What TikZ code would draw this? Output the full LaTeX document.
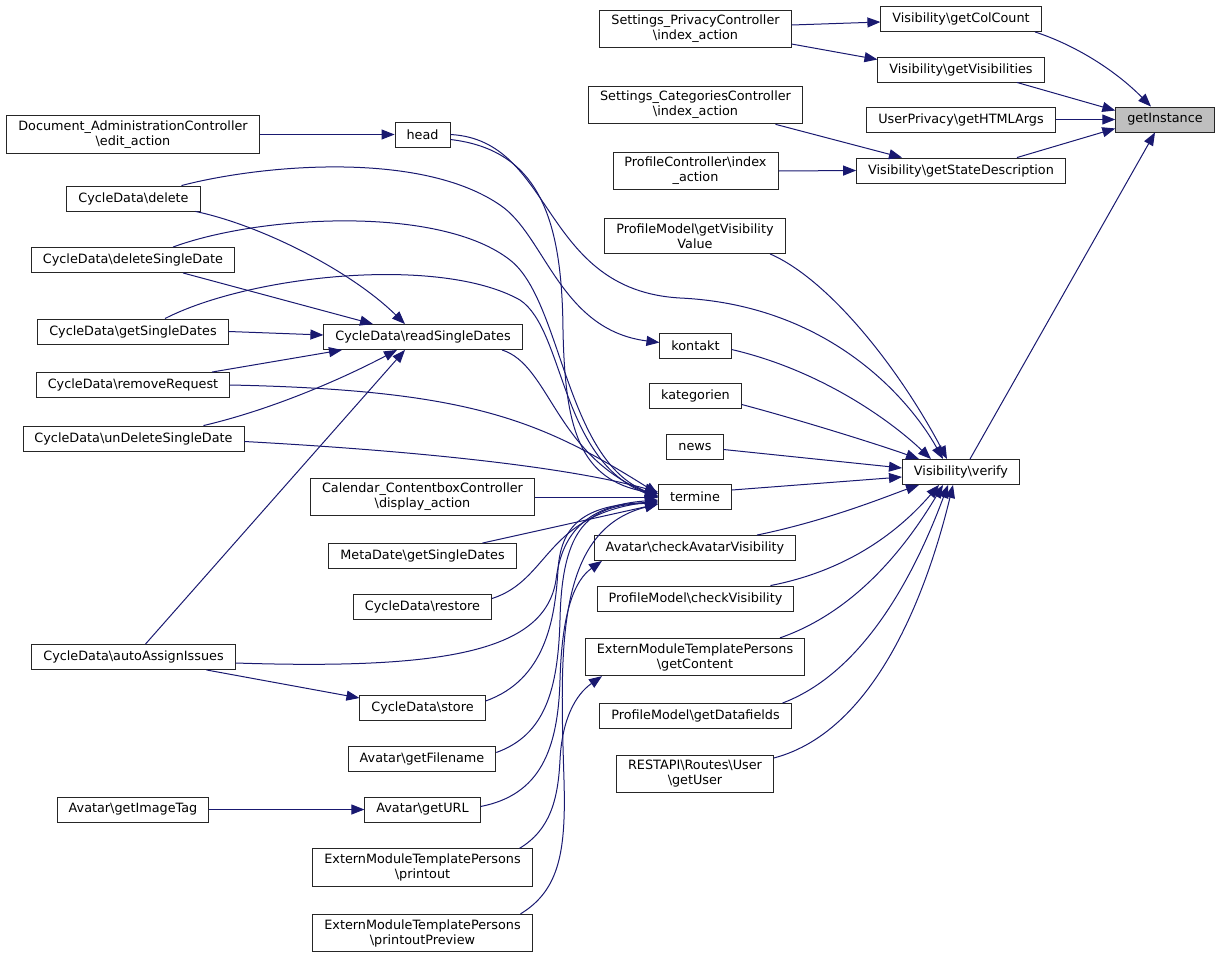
\documentclass[tikz,border=0pt]{standalone}
\usepackage{fontspec}
\usepackage{tikz}
\usetikzlibrary{arrows.meta}
\newfontfamily\dxfont{DejaVu Sans}
\newcommand{\bsl}{\textbackslash{}}
\definecolor{edgeblue}{HTML}{191970}
\definecolor{rootgray}{HTML}{BFBFBF}

\begin{document}
\begin{tikzpicture}[x=1pt,y=-1pt,
        fn/.style={draw=black!85,line width=0.9pt,fill=white,align=center,inner xsep=11.5pt,inner ysep=5pt,
            minimum height=25pt,font=\dxfont\fontsize{12.8}{15}\selectfont},
        root/.style={fn,fill=rootgray},
        call/.style={draw=edgeblue,line width=1pt,-{Triangle[length=13pt,width=10pt]}}]
            \useasboundingbox (0,0) rectangle (1219,959);

            % right part
            \node [root](gi) at (1165,119.5){getInstance};
            \node [fn](colc) at (961,19){Visibility\bsl getColCount};
            \node [fn](vis) at (961,69.5){Visibility\bsl getVisibilities};
            \node [fn](html) at (961,119.5){UserPrivacy\bsl getHTMLArgs};
            \node [fn](state) at (961,170.5){Visibility\bsl getStateDescription};
            \node [fn](verify) at (961,472){Visibility\bsl verify};

            % middle column
            \node [fn](privacy) at (695.5,29){Settings\_PrivacyController\\\bsl index\_action};
            \node [fn](categ) at (695.5,105){Settings\_CategoriesController\\\bsl index\_action};
            \node [fn](profctl) at (695.5,171){ProfileController\bsl index\\\_action};
            \node [fn](visval) at (695,236){ProfileModel\bsl getVisibility\\Value};
            \node [fn](kontakt) at (695.5,345.5){kontakt};
            \node [fn](kategorien) at (695.5,395.5){kategorien};
            \node [fn](news) at (695,446.5){news};
            \node [fn](termine) at (695,497){termine};
            \node [fn](avvis) at (695,548){Avatar\bsl checkAvatarVisibility};
            \node [fn](chkvis) at (695.5,598.5){ProfileModel\bsl checkVisibility};
            \node [fn](content) at (695,657){ExternModuleTemplatePersons\\\bsl getContent};
            \node [fn](datafields) at (695.5,716){ProfileModel\bsl getDatafields};
            \node [fn](getuser) at (695,774){RESTAPI\bsl Routes\bsl User\\\bsl getUser};

            % left part
            \node [fn](docadm) at (133,134.5){Document\_AdministrationController\\\bsl edit\_action};
            \node [fn](head) at (422.5,134.5){head};
            \node [fn](cdelete) at (133.5,198.5){CycleData\bsl delete};
            \node [fn](cdelsd) at (133,260){CycleData\bsl deleteSingleDate};
            \node [fn](cgetsd) at (133,331.5){CycleData\bsl getSingleDates};
            \node [fn](readsd) at (423,337){CycleData\bsl readSingleDates};
            \node [fn](remreq) at (133,385){CycleData\bsl removeRequest};
            \node [fn](undel) at (133.5,438.5){CycleData\bsl unDeleteSingleDate};
            \node [fn](calendar) at (422.5,497){Calendar\_ContentboxController\\\bsl display\_action};
            \node [fn](metadate) at (422.5,556){MetaDate\bsl getSingleDates};
            \node [fn](restore) at (422.5,606.5){CycleData\bsl restore};
            \node [fn](autoassign) at (133.5,657){CycleData\bsl autoAssignIssues};
            \node [fn](store) at (422.5,708){CycleData\bsl store};
            \node [fn](filename) at (422,758.5){Avatar\bsl getFilename};
            \node [fn](imagetag) at (133,809.5){Avatar\bsl getImageTag};
            \node [fn](geturl) at (422.5,809.5){Avatar\bsl getURL};
            \node [fn](printout) at (422.5,867.5){ExternModuleTemplatePersons\\\bsl printout};
            \node [fn](preview) at (422.5,933){ExternModuleTemplatePersons\\\bsl printoutPreview};

            % calls into getInstance
            \draw[call] ([xshift=74pt]colc.south) .. controls (1075,45) and (1115,70) .. ([xshift=-14pt]gi.north);
            \draw[call] ([xshift=56pt]vis.south) -- ([yshift=-4pt]gi.north west);
            \draw[call] (html.east) -- (gi.west);
            \draw[call] ([xshift=56pt]state.north) -- ([yshift=4pt]gi.south west);
            \draw[call] ([xshift=9pt]verify.north) -- ([xshift=-10pt]gi.south);
            \draw[call] ([yshift=4pt]privacy.east) -- ([yshift=-3pt]colc.west);
            \draw[call] ([yshift=-15pt]privacy.east) -- ([yshift=10pt]vis.west);
            \draw[call] ([xshift=80pt]categ.south) -- ([xshift=-59pt]state.north);
            \draw[call] (profctl.east) -- (state.west);

            % calls into verify
            \draw[call] ([xshift=75pt]visval.south) .. controls (830,280) and (900,370) .. ([xshift=-14pt]verify.north);
            \draw[call] (head.east) .. controls (555,140) and (540,290) .. (680,298) .. controls (830,305) and (910,400) .. ([xshift=-18pt]verify.north);
            \draw[call] ([yshift=-4pt]kontakt.east) .. controls (820,370) and (890,420) .. ([xshift=-30pt]verify.north);
            \draw[call] ([yshift=-9pt]kategorien.east) .. controls (800,420) and (880,445) .. ([xshift=-42pt]verify.north);
            \draw[call] ([yshift=-3pt]news.east) -- ([yshift=4pt]verify.west);
            \draw[call] ([yshift=7pt]termine.east) -- ([yshift=-5pt]verify.west);
            \draw[call] ([xshift=62pt]avvis.north) .. controls (830,520) and (890,495) .. ([xshift=-42pt]verify.south);
            \draw[call] ([xshift=75pt]chkvis.north) .. controls (850,570) and (900,530) .. ([xshift=-22pt]verify.south);
            \draw[call] ([xshift=85pt]content.north) .. controls (860,610) and (910,540) .. ([xshift=-18pt]verify.south);
            \draw[call] ([xshift=87pt]datafields.north) .. controls (870,670) and (920,560) .. ([xshift=-13pt]verify.south);
            \draw[call] ([yshift=16pt]getuser.east) .. controls (880,730) and (930,580) .. ([xshift=-8pt]verify.south);

            % left side
            \draw[call] (docadm.east) -- (head.west);
            \draw[call] ([xshift=48pt]cdelete.north) .. controls (260,165) and (420,150) .. (500,205) .. controls (545,235) and (560,330) .. ([yshift=3pt]kontakt.west);
            \draw[call] ([xshift=62pt]cdelete.south) .. controls (260,225) and (350,270) .. ([xshift=-18pt]readsd.north);
            \draw[call] ([xshift=50pt]cdelsd.south) -- ([xshift=-50pt]readsd.north);
            \draw[call] (cgetsd.east) -- ([yshift=2pt]readsd.west);
            \draw[call] ([xshift=79pt]remreq.north) -- ([xshift=-81pt]readsd.south);
            \draw[call] ([xshift=70pt]undel.north) .. controls (270,410) and (340,380) .. ([xshift=-26pt]readsd.south);
            \draw[call] ([xshift=12pt]autoassign.north) -- ([xshift=-18pt]readsd.south);
            \draw[call] ([xshift=73pt]autoassign.south) -- ([yshift=10pt]store.west);
            \draw[call] (imagetag.east) -- (geturl.west);

            % calls into termine
            \draw[call] ([yshift=-5pt]head.east) .. controls (540,150) and (562,220) .. (563,330) .. controls (565,430) and (580,480) .. ([yshift=3pt]termine.west);
            \draw[call] ([xshift=40pt]cdelsd.north) .. controls (260,215) and (440,205) .. (510,260) .. controls (562,300) and (565,460) .. ([yshift=1pt]termine.west);
            \draw[call] ([xshift=32pt]cgetsd.north) .. controls (250,275) and (440,255) .. (520,300) .. controls (565,330) and (560,460) .. ([yshift=-1pt]termine.west);
            \draw[call] ([xshift=79pt]readsd.south) .. controls (550,365) and (555,455) .. (termine.west);
            \draw[call] (remreq.east) .. controls (470,390) and (540,420) .. ([yshift=3pt]termine.west);
            \draw[call] ([yshift=-3pt]undel.east) .. controls (400,450) and (560,465) .. ([yshift=5pt]termine.west);
            \draw[call] (calendar.east) -- (termine.west);
            \draw[call] ([xshift=60pt]metadate.north) -- ([yshift=-7pt]termine.west);
            \draw[call] ([yshift=8pt]restore.east) .. controls (550,580) and (545,515) .. ([yshift=-4pt]termine.west);
            \draw[call] ([yshift=-6pt]autoassign.east) .. controls (450,670) and (545,650) .. (556,580) .. controls (562,530) and (590,505) .. ([yshift=-3pt]termine.west);
            \draw[call] ([yshift=7pt]store.east) .. controls (545,680) and (555,620) .. (558,570) .. controls (561,520) and (590,505) .. ([yshift=-5pt]termine.west);
            \draw[call] ([yshift=6pt]filename.east) .. controls (545,735) and (558,690) .. (560,620) .. controls (562,525) and (590,505) .. ([yshift=-6pt]termine.west);
            \draw[call] ([xshift=98pt]preview.north) .. controls (560,890) and (566,850) .. (564,780) .. controls (560,650) and (555,530) .. ([yshift=-7pt]termine.west);

            % lower calls
            \draw[call] ([yshift=3pt]geturl.east) .. controls (540,795) and (558,750) .. (560,680) .. controls (562,610) and (575,580) .. ([xshift=-93pt]avvis.south);
            \draw[call] ([xshift=97pt]printout.north) .. controls (550,830) and (558,800) .. (560,760) .. controls (562,720) and (575,695) .. ([xshift=-93pt]content.south);
\end{tikzpicture}
\end{document}
